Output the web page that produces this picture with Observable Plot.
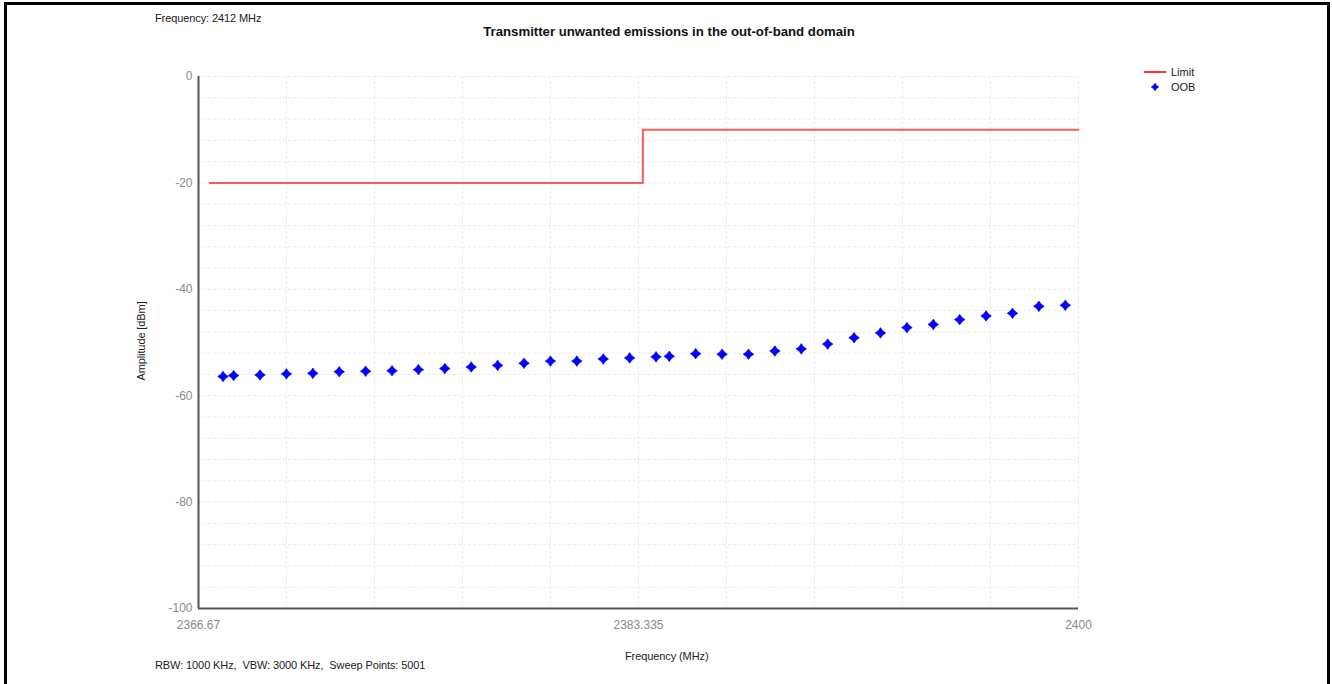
<!DOCTYPE html>
<html>
<head>
<meta charset="utf-8">
<script src="https://cdn.jsdelivr.net/npm/d3@7"></script>
<script src="https://cdn.jsdelivr.net/npm/@observablehq/plot@0.6"></script>
<style>
  html, body { margin: 0; padding: 0; background: #fff; }
  #wrap { position: relative; width: 1332px; height: 684px; overflow: hidden; background: #fff;
          font-family: "Liberation Sans", Arial, sans-serif; }
  #frame { position: absolute; left: 4px; top: 2px; width: 1320px; height: 720px; border: 3px solid #000; box-sizing: content-box; }
  .t { position: absolute; white-space: pre; color: #222; font-size: 11px; letter-spacing: -0.1px; line-height: 1; }
  #chart { position: absolute; left: 0; top: 0; }
</style>
</head>
<body>
<div id="wrap">
  <div id="frame"></div>
  <div id="chart"></div>
  <div class="t" style="left:155px; top:13px;">Frequency: 2412 MHz</div>
  <div class="t" style="left:0; width:1338px; text-align:center; top:25px; font-weight:bold; font-size:13.2px; letter-spacing:0; color:#111;">Transmitter unwanted emissions in the out-of-band domain</div>
  <div class="t" style="left:625px; top:651px;">Frequency (MHz)</div>
  <div class="t" style="left:155px; top:660px;">RBW: 1000 KHz,  VBW: 3000 KHz,  Sweep Points: 5001</div>
  <div class="t" style="left:141px; top:341px; transform: translate(-50%,-50%) rotate(-90deg); transform-origin:center;">Amplitude [dBm]</div>
</div>
<script>
// ---- data ----
const limitFreq = [2367.1, 2383.5, 2400];
const limitVal  = [-20, -10, -10];

const oobFreq = [2367.6, 2368, 2369, 2370, 2371, 2372, 2373, 2374, 2375, 2376, 2377, 2378, 2379, 2380, 2381, 2382, 2383,
                 2384, 2384.5, 2385.5, 2386.5, 2387.5, 2388.5, 2389.5, 2390.5, 2391.5, 2392.5, 2393.5, 2394.5, 2395.5, 2396.5, 2397.5, 2398.5, 2399.5];
const oobVal  = [-56.4, -56.2, -56.1, -55.9, -55.8, -55.5, -55.4, -55.3, -55.1, -54.9, -54.6, -54.3, -53.9, -53.5, -53.5, -53.1, -52.9,
                 -52.7, -52.6, -52.1, -52.2, -52.2, -51.6, -51.2, -50.3, -49.1, -48.2, -47.2, -46.6, -45.7, -45.0, -44.5, -43.2, -43.0];

const xTicks = [2366.67, 2383.335, 2400];
const xTickLabels = ["2366.67", "2383.335", "2400"];
const yTicks = [0, -20, -40, -60, -80, -100];
const yTickLabels = ["0", "-20", "-40", "-60", "-80", "-100"];
const xGrid = [2370.003, 2373.336, 2376.669, 2380.002, 2383.335, 2386.668, 2390.001, 2393.334, 2396.667, 2400];
const yGrid = [-4, -8, -12, -16, -20, -24, -28, -32, -36, -40, -44, -48, -52, -56, -60, -64, -68, -72, -76, -80, -84, -88, -92, -96, 0];

const legendNames = ["Limit", "OOB"];

// ---- tables ----
const limit = limitFreq.map((f, i) => ({f, v: limitVal[i]}));
const oob = oobFreq.map((f, i) => ({f, v: oobVal[i]}));

// four-pointed star marker (like the reference's blue points)
const star4 = {
  draw(context, size) {
    const R = Math.sqrt(size) * 0.75, r = R * 0.42;
    context.moveTo(0, -R);
    context.lineTo(r, -r);
    context.lineTo(R, 0);
    context.lineTo(r, r);
    context.lineTo(0, R);
    context.lineTo(-r, r);
    context.lineTo(-R, 0);
    context.lineTo(-r, -r);
    context.closePath();
  }
};

const chart = Plot.plot({
  width: 1332,
  height: 684,
  marginLeft: 198,
  marginRight: 254,
  marginTop: 76,
  marginBottom: 76,
  style: { background: "transparent", fontFamily: "Liberation Sans, Arial, sans-serif", fontSize: "12px" },
  x: { domain: [2366.67, 2400] },
  y: { domain: [-100, 0] },
  marks: [
    Plot.ruleX(xGrid, { stroke: "#ececec", strokeWidth: 1, strokeDasharray: "3,2" }),
    Plot.ruleY(yGrid, { stroke: "#ececec", strokeWidth: 1, strokeDasharray: "3,2" }),
    Plot.axisX({ ticks: xTicks, tickFormat: (d) => xTickLabels[xTicks.indexOf(d)], tickSize: 0, tickPadding: 12, fill: "#8a8a8a", fontSize: 12, label: null }),
    Plot.axisY({ ticks: yTicks, tickFormat: (d) => yTickLabels[yTicks.indexOf(d)], tickSize: 0, tickPadding: 6, fill: "#8a8a8a", fontSize: 12, label: null }),
    Plot.line(limit, { x: "f", y: "v", curve: "step-after", stroke: "#ff5a5a", strokeWidth: 2 }),
    Plot.dot(oob, { x: "f", y: "v", symbol: star4, r: 4.0, fill: "#0000ff", stroke: "#0000ff", strokeWidth: 0.6 }),
    Plot.ruleX([2366.67], { stroke: "#555", strokeWidth: 2, y1: -100, y2: 0 }),
    Plot.ruleY([-100], { stroke: "#555", strokeWidth: 2, x1: 2366.67, x2: 2400 })
  ]
});
document.getElementById("chart").appendChild(chart);

// legend (pixel-positioned beside the plot)
const svg = d3.select(chart);
const lg = svg.append("g")
  .attr("font-family", "Liberation Sans, Arial, sans-serif")
  .attr("font-size", 11)
  .attr("text-anchor", "start");
lg.append("line").attr("x1", 1144).attr("x2", 1166).attr("y1", 72).attr("y2", 72).attr("stroke", "#ff3333").attr("stroke-width", 2);
lg.append("text").attr("x", 1171).attr("y", 72).attr("dy", "0.35em").attr("fill", "#222").text(legendNames[0]);
lg.append("path").attr("d", d3.symbol(star4, 26)()).attr("transform", "translate(1155,87)").attr("fill", "#0000ff").attr("stroke", "#0000ff").attr("stroke-width", 0.6);
lg.append("text").attr("x", 1171).attr("y", 87).attr("dy", "0.35em").attr("fill", "#222").text(legendNames[1]);
</script>
</body>
</html>
